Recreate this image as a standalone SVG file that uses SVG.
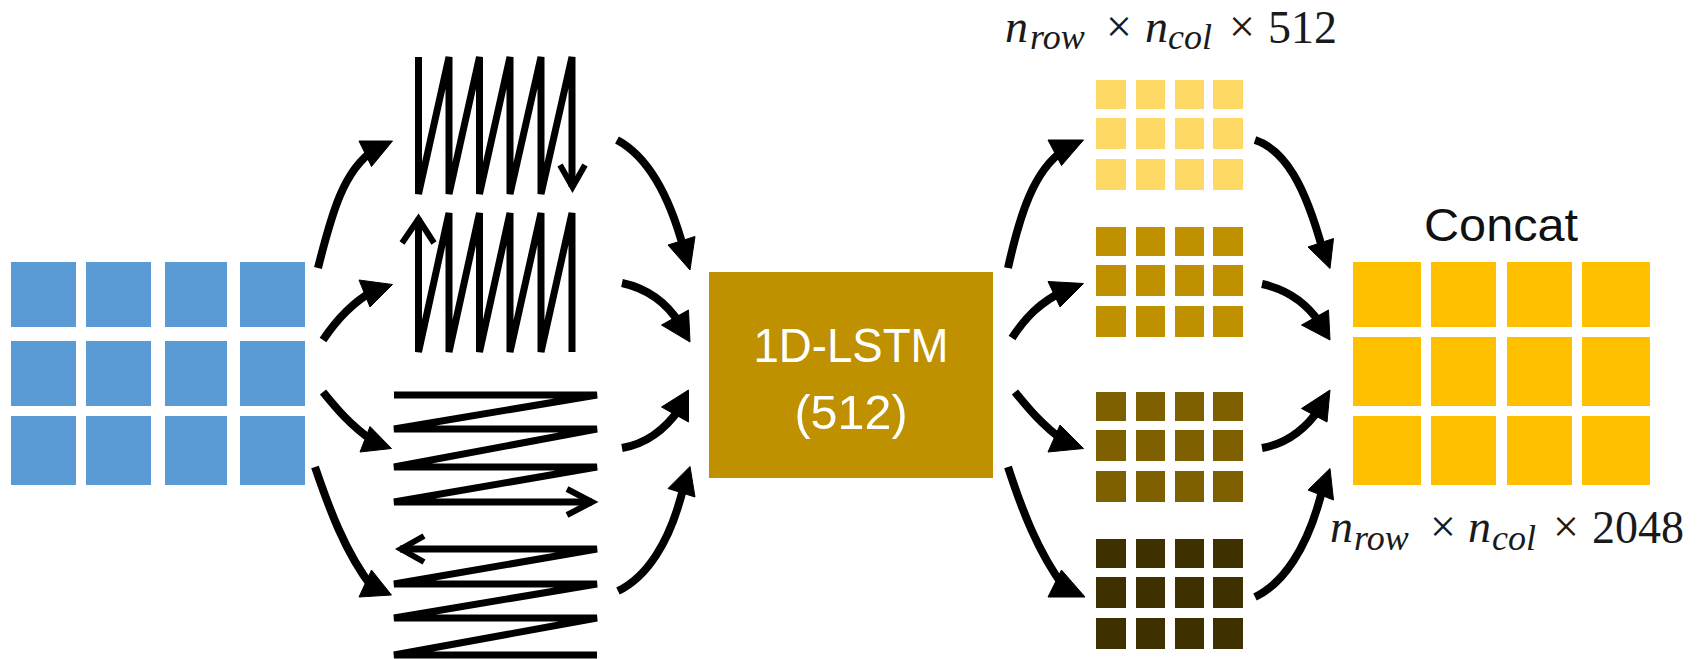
<svg xmlns="http://www.w3.org/2000/svg" xmlns:xlink="http://www.w3.org/1999/xlink" width="1701" height="659" viewBox="0 0 1701 659">
  <style>
    .blue { fill: #5B9BD5; }
    .gold-light { fill: #FFD966; }
    .gold { fill: #BF9000; }
    .gold-dark { fill: #7F6000; }
    .gold-darkest { fill: #3F3000; }
    .concat { fill: #FFC000; }
    .scan { fill: none; stroke: #000; stroke-width: 7; stroke-linejoin: bevel; }
    .chev { fill: none; stroke: #000; stroke-width: 6; stroke-linejoin: miter; stroke-linecap: butt; }
    .arrow { fill: none; stroke: #000; stroke-width: 8; stroke-linecap: butt; }
    .head { fill: #000; stroke: #000; stroke-width: 1; stroke-linejoin: miter; }
    .box-label { font-family: "Liberation Sans", Arial, sans-serif; fill: #FFFFFF; font-size: 49px; text-anchor: middle; }
    .title { font-family: "Liberation Sans", Arial, sans-serif; fill: #111; font-size: 46px; text-anchor: middle; }
    .math { font-family: "Liberation Serif", "Times New Roman", serif; fill: #1a1a1a; font-size: 46px; }
    .math-i { font-style: italic; }
    .sub { font-family: "Liberation Serif", "Times New Roman", serif; font-style: italic; fill: #1a1a1a; font-size: 36px; }
  </style>
  <defs>
    <!-- 4 x 3 block of small cells used by the four LSTM output maps -->
    <g id="small-grid">
      <rect x="0" y="0" width="30" height="29"/>
      <rect x="40" y="0" width="29" height="29"/>
      <rect x="79" y="0" width="29" height="29"/>
      <rect x="117" y="0" width="30" height="29"/>
      <rect x="0" y="38" width="30" height="31"/>
      <rect x="40" y="38" width="29" height="31"/>
      <rect x="79" y="38" width="29" height="31"/>
      <rect x="117" y="38" width="30" height="31"/>
      <rect x="0" y="79" width="30" height="31"/>
      <rect x="40" y="79" width="29" height="31"/>
      <rect x="79" y="79" width="29" height="31"/>
      <rect x="117" y="79" width="30" height="31"/>
    </g>
  </defs>

  <rect width="1701" height="659" fill="#FFFFFF"/>

  <!-- input feature map -->
  <g id="input-grid" class="blue">
    <rect x="11" y="262" width="65" height="65"/>
    <rect x="86" y="262" width="65" height="65"/>
    <rect x="165" y="262" width="62" height="65"/>
    <rect x="240" y="262" width="65" height="65"/>
    <rect x="11" y="341" width="65" height="65"/>
    <rect x="86" y="341" width="65" height="65"/>
    <rect x="165" y="341" width="62" height="65"/>
    <rect x="240" y="341" width="65" height="65"/>
    <rect x="11" y="416" width="65" height="69"/>
    <rect x="86" y="416" width="65" height="69"/>
    <rect x="165" y="416" width="62" height="69"/>
    <rect x="240" y="416" width="65" height="69"/>
  </g>

  <!-- column-wise scan, top to bottom -->
  <g id="scan-col-down">
    <path class="scan" d="M418.5,57 V194 L449,57 V194 L479.5,57 V194 L510,57 V194 L541,57 V194 L572,57 V187"/>
    <polyline class="chev" points="560,165 572.5,187 585,165"/>
  </g>

  <!-- column-wise scan, bottom to top -->
  <g id="scan-col-up">
    <path class="scan" d="M418.5,218 V352 L449,213 V352 L479.5,213 V352 L510,213 V352 L541,213 V352 L572,213 V352"/>
    <polyline class="chev" points="402,243 418.5,219 434,243"/>
  </g>

  <!-- row-wise scan, left to right -->
  <g id="scan-row-right">
    <path class="scan" d="M394,395 H597 L394,429 H597 L394,467 H597 L394,502 H592"/>
    <polyline class="chev" points="567,489 592,502 567,515"/>
  </g>

  <!-- row-wise scan, right to left -->
  <g id="scan-row-left">
    <path class="scan" d="M400,549 H597 L394,584 H597 L394,618 H597 L394,655 H597"/>
    <polyline class="chev" points="424,536 401,549 424,562"/>
  </g>

  <!-- shared recurrent layer -->
  <g id="lstm">
    <rect class="gold" x="709" y="272" width="284" height="206"/>
    <text class="box-label" x="851" y="362" textLength="195" lengthAdjust="spacingAndGlyphs">1D-LSTM</text>
    <text class="box-label" x="851" y="429" textLength="113" lengthAdjust="spacingAndGlyphs">(512)</text>
  </g>

  <!-- per-direction outputs -->
  <g id="out-1" class="gold-light">
    <use xlink:href="#small-grid" transform="translate(1096,80)"/>
  </g>
  <g id="out-2" class="gold">
    <use xlink:href="#small-grid" transform="translate(1096,227)"/>
  </g>
  <g id="out-3" class="gold-dark">
    <use xlink:href="#small-grid" transform="translate(1096,392)"/>
  </g>
  <g id="out-4" class="gold-darkest">
    <use xlink:href="#small-grid" transform="translate(1096,539)"/>
  </g>

  <!-- concatenated output -->
  <g id="concat">
    <text class="title" x="1501" y="241" textLength="154" lengthAdjust="spacingAndGlyphs">Concat</text>
    <g class="concat">
      <rect x="1353" y="262" width="68" height="65"/>
      <rect x="1431" y="262" width="65" height="65"/>
      <rect x="1507" y="262" width="65" height="65"/>
      <rect x="1582" y="262" width="68" height="65"/>
      <rect x="1353" y="337" width="68" height="69"/>
      <rect x="1431" y="337" width="65" height="69"/>
      <rect x="1507" y="337" width="65" height="69"/>
      <rect x="1582" y="337" width="68" height="69"/>
      <rect x="1353" y="416" width="68" height="69"/>
      <rect x="1431" y="416" width="65" height="69"/>
      <rect x="1507" y="416" width="65" height="69"/>
      <rect x="1582" y="416" width="68" height="69"/>
    </g>
  </g>

  <!-- shape annotations -->
  <g id="label-top">
    <text class="math math-i" x="1005" y="42">n</text>
    <text class="sub" x="1030" y="49">row</text>
    <text class="math" x="1106" y="42">×</text>
    <text class="math math-i" x="1145" y="42">n</text>
    <text class="sub" x="1168" y="49">col</text>
    <text class="math" x="1229" y="42">×</text>
    <text class="math" x="1268" y="43">512</text>
  </g>
  <g id="label-bottom">
    <text class="math math-i" x="1330" y="542">n</text>
    <text class="sub" x="1354" y="550">row</text>
    <text class="math" x="1430" y="542">×</text>
    <text class="math math-i" x="1468" y="542">n</text>
    <text class="sub" x="1492" y="550">col</text>
    <text class="math" x="1553" y="542">×</text>
    <text class="math" x="1592" y="543">2048</text>
  </g>

  <!-- connectors -->
  <g id="connectors">
    <!-- input to the four scans -->
    <path class="arrow" d="M318,268 C332,212 344,170 374,150"/>
    <polygon class="head" points="359,141 392.5,141 371.5,166.5"/>
    <path class="arrow" d="M323,340 C335,322 350,304 373,291"/>
    <polygon class="head" points="359,280 392.5,284.5 370,307"/>
    <path class="arrow" d="M323,392 C336,408 350,425 373,441"/>
    <polygon class="head" points="360,452 391.5,448.5 370,426.5"/>
    <path class="arrow" d="M315,467 C329,508 345,552 372,587"/>
    <polygon class="head" points="359,597 391.5,595 371.5,570"/>

    <!-- scans into the LSTM -->
    <path class="arrow" d="M617,140 C645,155 668,190 684,250"/>
    <polygon class="head" points="668,245 695,236.5 690,270"/>
    <path class="arrow" d="M622,283 C645,288 665,300 680,324"/>
    <polygon class="head" points="661.5,325 688.5,310 690,342"/>
    <path class="arrow" d="M622,448 C645,444 665,430 680,408"/>
    <polygon class="head" points="661.5,407 688.5,390 688.5,422"/>
    <path class="arrow" d="M618,591 C645,578 670,545 684,485"/>
    <polygon class="head" points="668,488.5 690,466.5 695,497"/>

    <!-- LSTM to the four outputs -->
    <path class="arrow" d="M1008,268 C1020,214 1034,170 1064,150"/>
    <polygon class="head" points="1048,140 1083.5,140 1061.5,165.5"/>
    <path class="arrow" d="M1012,338 C1025,318 1040,302 1064,291"/>
    <polygon class="head" points="1048,281.5 1083.5,283.5 1060,307"/>
    <path class="arrow" d="M1015,392 C1028,408 1042,425 1064,441"/>
    <polygon class="head" points="1048,452 1083.5,448.5 1060,425"/>
    <path class="arrow" d="M1008,467 C1022,510 1038,552 1064,587"/>
    <polygon class="head" points="1048,597 1085,597 1061.5,570"/>

    <!-- outputs into the concatenation -->
    <path class="arrow" d="M1255,140 C1285,150 1305,185 1323,251"/>
    <polygon class="head" points="1308,247 1333.5,238.5 1330,268.5"/>
    <path class="arrow" d="M1262,284 C1285,289 1305,301 1320,323"/>
    <polygon class="head" points="1301.5,325 1328.5,310 1330,340"/>
    <path class="arrow" d="M1262,448 C1285,444 1305,430 1320,408"/>
    <polygon class="head" points="1301.5,408.5 1330,390 1327,422"/>
    <path class="arrow" d="M1255,597 C1282,584 1308,550 1323,487"/>
    <polygon class="head" points="1308,490 1330,468.5 1333.5,500"/>
  </g>
</svg>
